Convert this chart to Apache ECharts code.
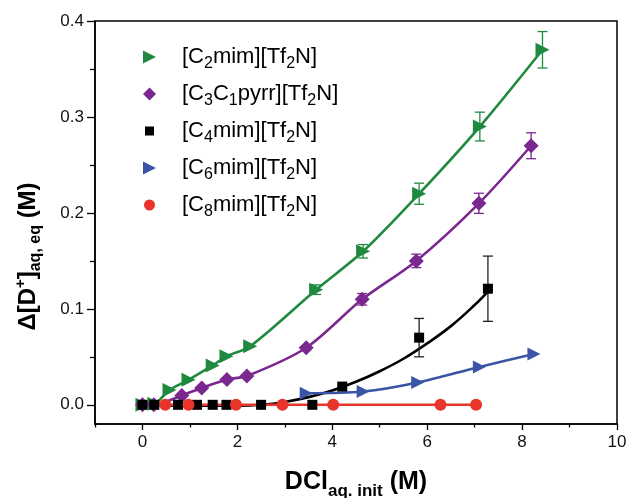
<!DOCTYPE html>
<html>
<head>
<meta charset="utf-8">
<script src="https://cdn.jsdelivr.net/npm/echarts@6/dist/echarts.min.js"></script>
<style>html,body{margin:0;padding:0;background:#fff}#c{width:628px;height:498px}</style>
</head>
<body>
<div id="c"></div>
<script>
// ---- data ----
const c2X = [0, 0.25, 0.57, 0.97, 1.48, 1.77, 2.27, 3.66, 4.65, 5.83, 7.11, 8.43];
const c2Y = [0, 0.001, 0.0155, 0.026, 0.041, 0.0505, 0.061, 0.120, 0.160, 0.220, 0.290, 0.370];
const c2Err = [0, 0, 0, 0, 0, 0, 0, 0.005, 0.007, 0.011, 0.015, 0.019];

const pyX = [0, 0.24, 0.83, 1.25, 1.78, 2.2, 3.45, 4.63, 5.77, 7.09, 8.19];
const pyY = [0, 0, 0.0098, 0.0176, 0.0265, 0.030, 0.0595, 0.110, 0.150, 0.210, 0.270];
const pyErr = [0, 0, 0, 0, 0, 0, 0, 0.006, 0.007, 0.0105, 0.0135];

const c4X = [0, 0.25, 0.75, 1.15, 1.48, 1.77, 2.5, 3.58, 4.21, 5.83, 7.28];
const c4Y = [0, 0, 0, 0, 0, 0, 0, 0, 0.019, 0.070, 0.121];
const c4Err = [0, 0, 0, 0, 0, 0, 0, 0, 0, 0.020, 0.034];
const c4FitX = [0, 1, 2, 2.5, 3, 3.5, 4, 4.5, 5, 5.5, 6, 6.5, 7, 7.28];
const c4FitY = [0, -0.001, -0.001, 0, 0.003, 0.008, 0.015, 0.024, 0.035, 0.048, 0.064, 0.082, 0.104, 0.118];

const c6X = [3.45, 4.65, 5.8, 7.1, 8.25];
const c6Y = [0.012, 0.0138, 0.0233, 0.0395, 0.053];

const c8X = [0.48, 0.97, 1.97, 2.95, 4.02, 6.28, 7.03];
const c8Y = [0, 0, 0, 0, 0, 0, 0];

const xMajor = [0, 2, 4, 6, 8, 10];
const xMinor = [-1, 1, 3, 5, 7, 9];
const yMajor = [0, 0.1, 0.2, 0.3, 0.4];
const yMinor = [0.05, 0.15, 0.25, 0.35];

const legendRich = {
  C2: '[C{s|2}mim][Tf{s|2}N]',
  C3C1: '[C{s|3}C{s|1}pyrr][Tf{s|2}N]',
  C4: '[C{s|4}mim][Tf{s|2}N]',
  C6: '[C{s|6}mim][Tf{s|2}N]',
  C8: '[C{s|8}mim][Tf{s|2}N]'
};
const colors = { C2: '#1f8a3f', C3C1: '#7a2890', C4: '#000000', C6: '#3a55a5', C8: '#e8342b' };

// ---- build ----
const zip = (xs, ys) => xs.map((x, i) => [x, ys[i]]);
const errData = (xs, ys, es) => xs.map((x, i) => [x, ys[i] - es[i], ys[i] + es[i]]).filter((d, i) => es[i] > 0);
const TRI = 'path://M0,0L10,5L0,10Z';
const FONT = '"Liberation Sans", Arial, sans-serif';

function errSeries(xs, ys, es, color) {
  return {
    type: 'custom', silent: true, z: 3,
    data: errData(xs, ys, es),
    renderItem: function (params, api) {
      const p1 = api.coord([api.value(0), api.value(1)]);
      const p2 = api.coord([api.value(0), api.value(2)]);
      const hw = 5;
      const st = { stroke: color, lineWidth: 1.3 };
      return {
        type: 'group', children: [
          { type: 'line', shape: { x1: p1[0], y1: p1[1], x2: p2[0], y2: p2[1] }, style: st },
          { type: 'line', shape: { x1: p1[0] - hw, y1: p1[1], x2: p1[0] + hw, y2: p1[1] }, style: st },
          { type: 'line', shape: { x1: p2[0] - hw, y1: p2[1], x2: p2[0] + hw, y2: p2[1] }, style: st }
        ]
      };
    }
  };
}
function lineSeries(xs, ys, color, smooth) {
  return { type: 'line', data: zip(xs, ys), showSymbol: false, smooth: smooth, silent: true,
    lineStyle: { color: color, width: 2.6 }, z: 2 };
}
function scat(name, xs, ys, symbol, size) {
  return { type: 'scatter', name: name, data: zip(xs, ys), symbol: symbol, symbolSize: size,
    itemStyle: { color: colors[name], opacity: 1 }, z: 4 };
}
const axisBase = { type: 'value', splitLine: { show: false } };

const chart = echarts.init(document.getElementById('c'), null, { renderer: 'canvas' });
chart.setOption({
  animation: false,
  backgroundColor: '#fff',
  grid: { left: 95, right: 11, top: 21, bottom: 74, show: true, borderColor: '#000', borderWidth: 1.5,
    backgroundColor: 'transparent', outerBoundsMode: 'none', containLabel: false },
  legend: {
    orient: 'vertical', left: 138, top: 41, itemGap: 11, itemWidth: 13, itemHeight: 13,
    data: [
      { name: 'C2', icon: TRI },
      { name: 'C3C1', icon: 'diamond' },
      { name: 'C4', icon: 'path://M0,0M13,13M2,2h9v9h-9z' },
      { name: 'C6', icon: TRI },
      { name: 'C8', icon: 'path://M0,0M13,13M6.5,1a5.5,5.5,0,1,0,0.001,0z' }
    ],
    formatter: n => legendRich[n],
    textStyle: { fontFamily: FONT, fontSize: 22, color: '#000', padding: [0, 0, 0, 21],
      rich: { s: { fontFamily: FONT, fontSize: 16, color: '#000', padding: [14, 0, 0, 0] } } }
  },
  xAxis: [Object.assign({}, axisBase, {
    min: -1, max: 10,
    name: 'DCl{s|aq. init} (M)', nameLocation: 'middle', nameGap: 41,
    nameTextStyle: { fontFamily: FONT, fontSize: 25, fontWeight: 'bold', color: '#000',
      rich: { s: { fontFamily: FONT, fontSize: 17, fontWeight: 'bold', color: '#000', padding: [18, 0, 0, 0] } } },
    axisLine: { show: true, onZero: false, lineStyle: { color: '#000', width: 1.5 } },
    axisTick: { show: true, inside: false, length: 6, customValues: xMajor, lineStyle: { color: '#000', width: 1.3 } },
    axisLabel: { customValues: xMajor, fontFamily: FONT, fontSize: 17, color: '#111', margin: 10 }
  }), Object.assign({}, axisBase, {
    min: -1, max: 10, position: 'bottom', offset: 0,
    axisLine: { show: false, onZero: false },
    axisTick: { show: true, inside: false, length: 3.5, customValues: xMinor, lineStyle: { color: '#000', width: 1.3 } },
    axisLabel: { show: false }
  })],
  yAxis: [Object.assign({}, axisBase, {
    min: -0.02, max: 0.4,
    name: 'Δ[D{p|+}]{s|aq, eq} (M)', nameLocation: 'middle', nameGap: 51, nameRotate: 90,
    nameTextStyle: { fontFamily: FONT, fontSize: 24, fontWeight: 'bold', color: '#000', padding: [0, 68, 0, 0],
      rich: {
        s: { fontFamily: FONT, fontSize: 16, fontWeight: 'bold', color: '#000', padding: [16, 0, 0, 0] },
        p: { fontFamily: FONT, fontSize: 15, fontWeight: 'bold', color: '#000', padding: [0, 0, 14, 0] }
      } },
    axisLine: { show: true, onZero: false, lineStyle: { color: '#000', width: 1.5 } },
    axisTick: { show: true, inside: false, length: 8, customValues: yMajor, lineStyle: { color: '#000', width: 1.3 } },
    axisLabel: { customValues: yMajor, formatter: v => v.toFixed(1), fontFamily: FONT, fontSize: 17, color: '#111', margin: 11 }
  }), Object.assign({}, axisBase, {
    min: -0.02, max: 0.4, position: 'left', offset: 0,
    axisLine: { show: false, onZero: false },
    axisTick: { show: true, inside: false, length: 5, customValues: yMinor, lineStyle: { color: '#000', width: 1.3 } },
    axisLabel: { show: false }
  })],
  series: [
    lineSeries(c2X, c2Y, colors.C2, 0.3),
    lineSeries(pyX, pyY, colors.C3C1, 0.3),
    lineSeries(c4FitX, c4FitY, colors.C4, 0.4),
    lineSeries(c6X, c6Y, colors.C6, 0.3),
    errSeries(c2X, c2Y, c2Err, colors.C2),
    errSeries(pyX, pyY, pyErr, colors.C3C1),
    errSeries(c4X, c4Y, c4Err, '#222'),
    scat('C2', c2X, c2Y, TRI, 14),
    scat('C3C1', pyX, pyY, 'diamond', 15),
    scat('C4', c4X, c4Y, 'rect', 10),
    scat('C6', c6X, c6Y, TRI, 13),
    lineSeries(c8X, c8Y, colors.C8, false),
    scat('C8', c8X, c8Y, 'circle', 12)
  ]
});
</script>
</body>
</html>
